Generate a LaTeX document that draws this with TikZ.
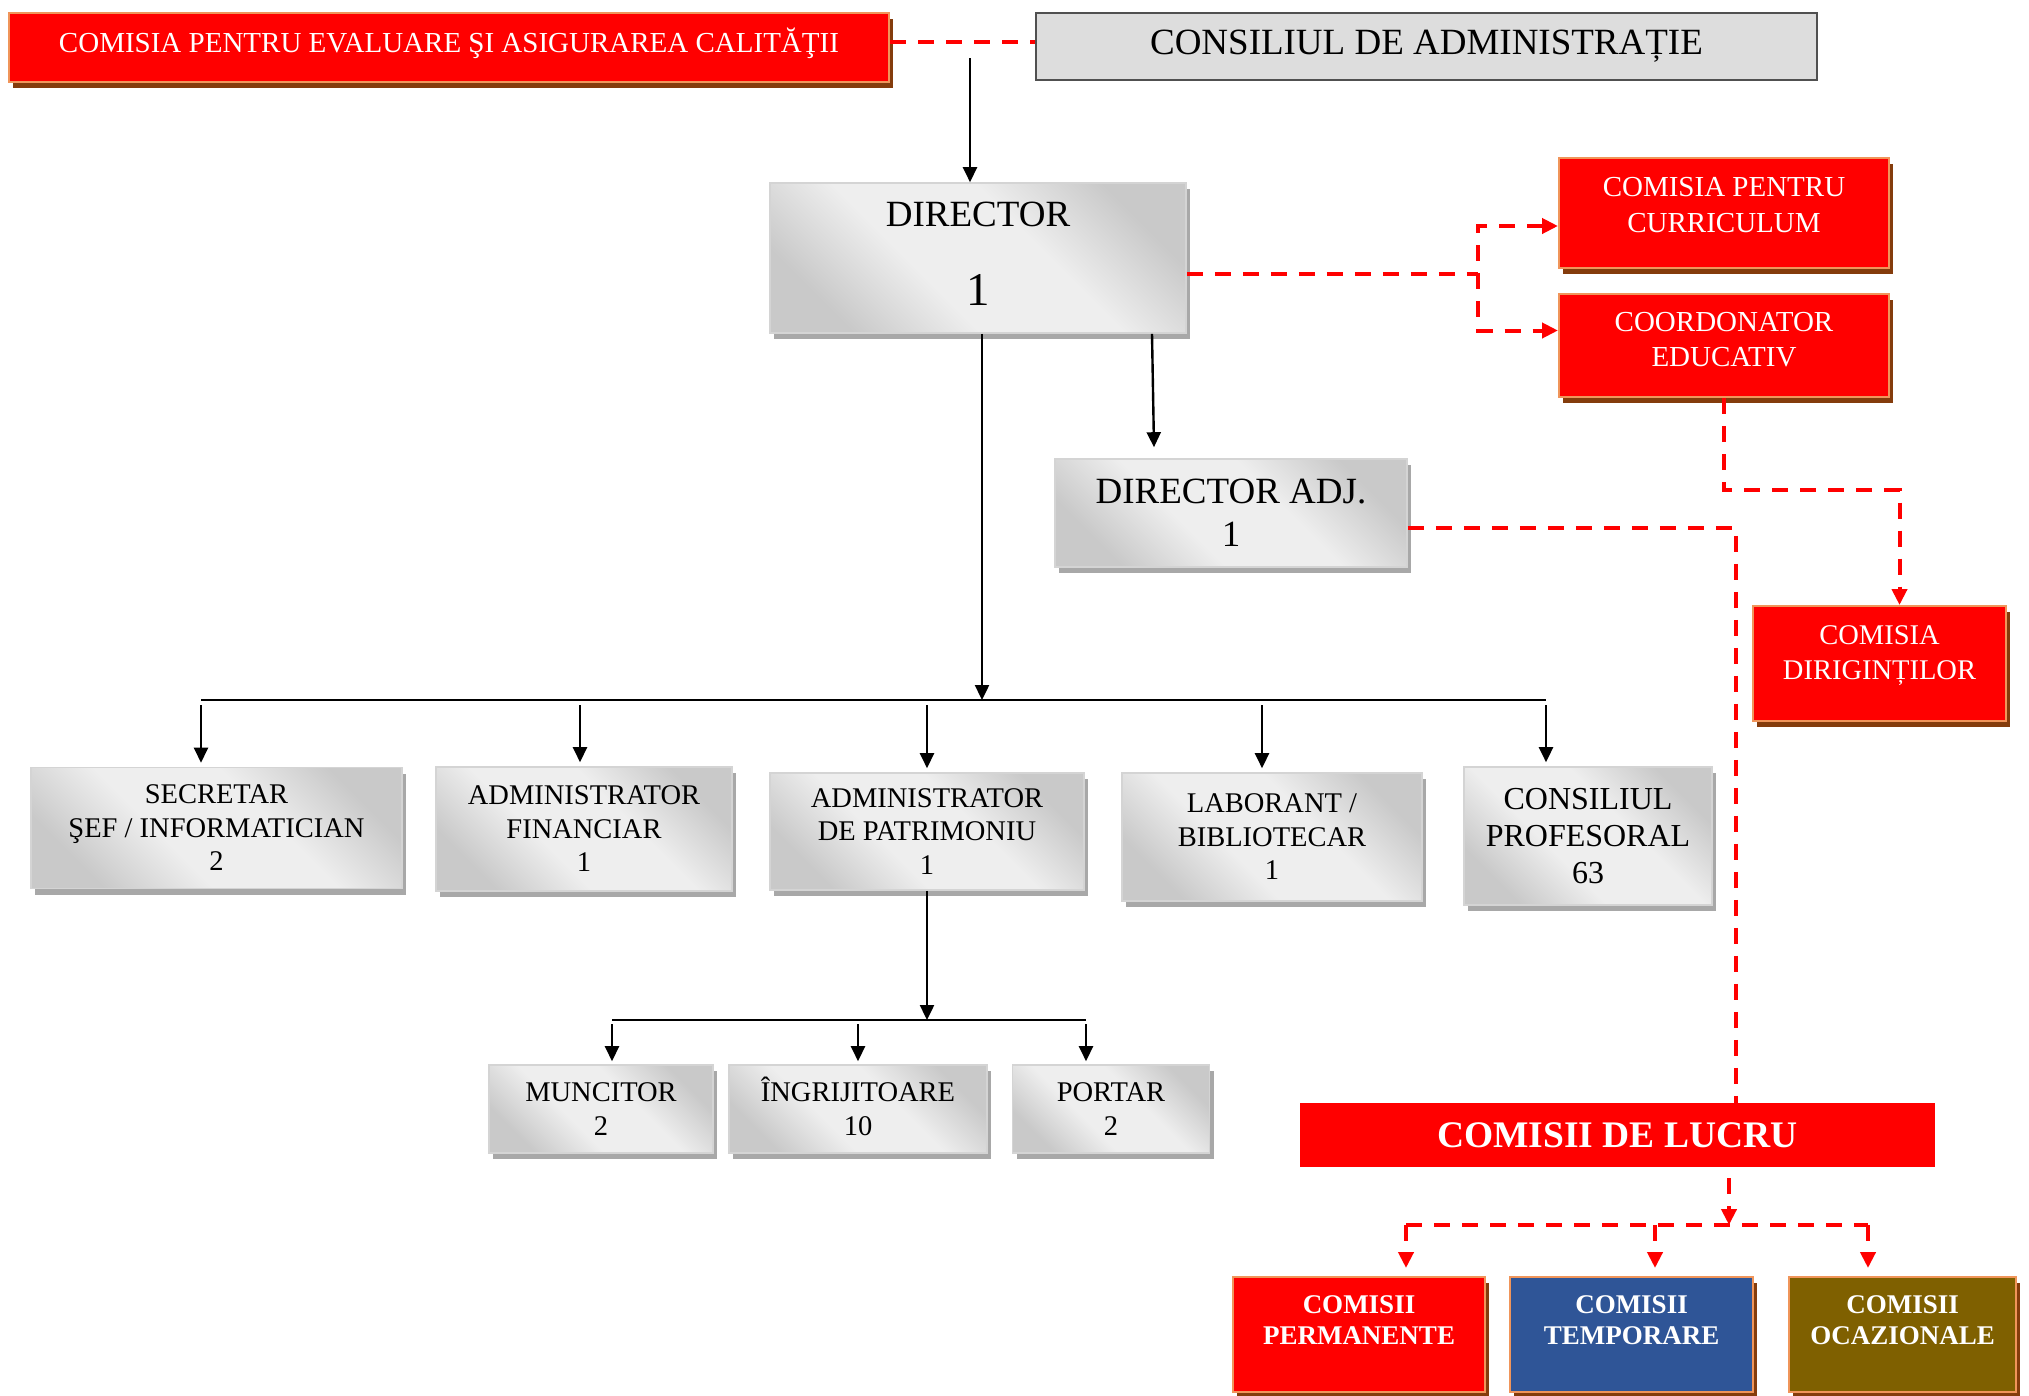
\documentclass[tikz,border=0pt]{standalone}
\usepackage{fontspec}
\setmainfont{Liberation Serif}
\usetikzlibrary{arrows.meta,shadows,calc}
\definecolor{cred}{HTML}{FF0000}
\definecolor{cborder}{HTML}{F0955A}
\definecolor{cbrown}{HTML}{843C0C}
\definecolor{cblue}{HTML}{2F5597}
\definecolor{colive}{HTML}{7F6000}
\definecolor{cgrayfill}{HTML}{DDDDDD}
\definecolor{cgrayline}{HTML}{505050}
\definecolor{gdark}{HTML}{C9C9C9}
\definecolor{glight}{HTML}{EEEEEE}
\pgfdeclareverticalshading{gshade}{100bp}{color(0bp)=(gdark); color(25bp)=(gdark); color(41bp)=(glight); color(59bp)=(glight); color(75bp)=(gdark); color(100bp)=(gdark)}
\newcommand\myfs[2]{\fontsize{#1}{#2}\selectfont}
\newcommand\dn[1]{\rule[-#1]{0pt}{#1}}
\begin{document}
\begin{tikzpicture}[x=1pt,y=-1pt,
  gbox/.style={draw=black!17, line width=1.6pt,
    shade, shading=gshade, shading angle=-45,
    drop shadow={shadow xshift=4pt, shadow yshift=-6pt, fill=black!34, opacity=1},
    align=center, inner sep=0pt, text=black},
  rbox/.style={fill=cred, draw=cborder, line width=2pt,
    drop shadow={shadow xshift=4pt, shadow yshift=-6pt, fill=cbrown, opacity=1},
    align=center, inner sep=0pt, text=white},
  rowfont/.style={font=\myfs{28.5}{33.5}},
  botfont/.style={font=\bfseries\myfs{27}{31}},
  ln/.style={line width=2.4pt, draw=black},
  arr/.style={ln, -{Triangle[length=15pt,width=14pt]}},
  rdash/.style={draw=cred, line width=4pt, dash pattern=on 16pt off 12pt},
  rtip/.style={-{Triangle[length=16pt,width=15pt]}},
  rarr/.style={rdash, rtip}
]
\fill[white] (0,0) rectangle (2029,1395);
\useasboundingbox (0,0) rectangle (2029,1395);

% ---------- nodes ----------
\node[rbox, minimum width=880pt, minimum height=69pt, font=\myfs{29}{35}] (eval) at (449,47.5)
  {COMISIA PENTRU EVALUARE ŞI ASIGURAREA CALITĂŢII\dn{15pt}};
\node[fill=cgrayfill, draw=cgrayline, line width=2pt, minimum width=781pt, minimum height=67pt,
  inner sep=0pt, font=\myfs{37}{44}] (consiliu) at (1426.5,46.5) {CONSILIUL DE ADMINISTRAȚIE};

\node[gbox, minimum width=416pt, minimum height=150pt, font=\myfs{37}{79}] (director) at (978,258)
  {DIRECTOR\\{\myfs{47}{79}1}\dn{8.5pt}};

\node[rbox, minimum width=330pt, minimum height=110pt, font=\myfs{29}{36}] (curr) at (1724,213)
  {COMISIA PENTRU\\CURRICULUM\dn{16pt}};
\node[rbox, minimum width=330pt, minimum height=103pt, font=\myfs{29}{35}] (coord) at (1724,345.5)
  {COORDONATOR\\EDUCATIV\dn{12pt}};
\node[rbox, minimum width=253pt, minimum height=115pt, font=\myfs{28.5}{35}] (dirig) at (1879.5,663.5)
  {COMISIA\\DIRIGINȚILOR\dn{22pt}};

\node[gbox, minimum width=352pt, minimum height=108pt, font=\myfs{37}{43}] (diradj) at (1231,513)
  {DIRECTOR ADJ.\\1};

\node[gbox, rowfont, minimum width=371pt, minimum height=121pt] (secretar) at (216.5,828)
  {SECRETAR\\ŞEF / INFORMATICIAN\\2};
\node[gbox, rowfont, minimum width=296pt, minimum height=124pt] (adfin) at (584,829)
  {ADMINISTRATOR\\FINANCIAR\\1};
\node[gbox, rowfont, minimum width=314pt, minimum height=117pt] (adpat) at (927,831.5)
  {ADMINISTRATOR\\DE PATRIMONIU\\1};
\node[gbox, rowfont, minimum width=300pt, minimum height=128pt] (labor) at (1272,837)
  {LABORANT /\\BIBLIOTECAR\\1};
\node[gbox, font=\myfs{32}{37}, minimum width=248pt, minimum height=138pt] (consprof) at (1588,836)
  {CONSILIUL\\PROFESORAL\\63};

\node[gbox, rowfont, minimum width=224pt, minimum height=88pt] (munc) at (601,1109)
  {MUNCITOR\\2};
\node[gbox, rowfont, minimum width=258pt, minimum height=88pt] (ingr) at (858,1109)
  {ÎNGRIJITOARE\\10\dn{6pt}};
\node[gbox, rowfont, minimum width=197pt, minimum height=88pt] (portar) at (1111,1109)
  {PORTAR\\2};

\node[fill=cred, text=white, inner sep=0pt, minimum width=635pt, minimum height=64pt,
  font=\bfseries\myfs{37.5}{44}] (lucru) at (1617.5,1135) {COMISII DE LUCRU};

\node[rbox, botfont, minimum width=252pt, minimum height=115pt] (perm) at (1359,1334.5)
  {COMISII\\PERMANENTE\dn{29pt}};
\node[rbox, botfont, fill=cblue, minimum width=243pt, minimum height=115pt] (temp) at (1631.5,1334.5)
  {COMISII\\TEMPORARE\dn{29pt}};
\node[rbox, botfont, fill=colive, minimum width=227pt, minimum height=115pt] (ocaz) at (1902.5,1334.5)
  {COMISII\\OCAZIONALE\dn{29pt}};

% ---------- connectors ----------
\draw[rdash] (eval.east |- 0,42) -- (consiliu.west |- 0,42);
\coordinate (cs) at (970,58);
\draw[arr] (cs) -- (cs |- director.north);

\coordinate (rj) at (1478,274);
\draw[rdash] (director.east |- rj) -- (rj);
\draw[rdash, {Triangle[length=16pt,width=15pt]}-{Triangle[length=16pt,width=15pt]}]
  ([yshift=-13pt]curr.west) -| (rj) |- ([yshift=15pt]coord.west);
\draw[rarr] (coord.south) -- ++(0,92) -| ([xshift=20pt]dirig.north);

\draw[arr] ([xshift=174pt]director.south) -- ([xshift=-77pt,yshift=11pt]diradj.north);
\draw[rdash] ([yshift=-15pt]diradj.east) -| ([xshift=118.5pt]lucru.north);

% first level bus
\coordinate (b1c) at (982,700);
\coordinate (b1L) at (201,700);
\coordinate (b1R) at (1546,700);
\draw[arr] ([xshift=4pt]director.south) -- (b1c);
\draw[ln] (b1L) -- (b1R);
\foreach \x/\n in {201/secretar, 580/adfin, 927/adpat, 1262/labor, 1546/consprof}
  \draw[arr, shorten >=4pt] (\x,705) -- (\x,0 |- \n.north);

% second level bus
\coordinate (b2c) at (927,1020);
\coordinate (b2L) at (612,1020);
\coordinate (b2R) at (1086,1020);
\draw[arr] (adpat.south) -- (b2c);
\draw[ln] (b2L) -- (b2R);
\foreach \x/\n in {612/munc, 858/ingr, 1086/portar}
  \draw[arr, shorten >=3pt] (\x,1024) -- (\x,0 |- \n.north);

% working commissions
\coordinate (b3c) at (1729,1225);
\coordinate (b3L) at (1406,1225);
\coordinate (b3R) at (1868,1225);
\draw[rarr] ([xshift=111.5pt,yshift=-11pt]lucru.south) -- (b3c);
\draw[rdash] (b3L) -- (b3R);
\foreach \x/\n in {1406/perm, 1655/temp, 1868/ocaz}
  \draw[rarr, shorten >=8pt] (\x,1225) -- (\x,0 |- \n.north);
\end{tikzpicture}
\end{document}
